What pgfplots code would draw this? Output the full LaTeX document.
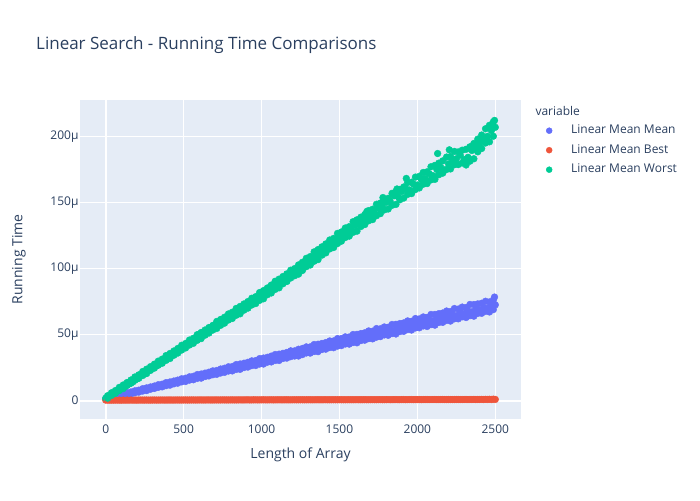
\documentclass[border=0pt]{standalone}
\usepackage{pgfplots}
\usepackage{pgfplotstable}
\pgfplotsset{compat=1.18}
\usepackage{fontspec}
\setmainfont{Open Sans}

\definecolor{plotbg}{HTML}{E5ECF6}
\definecolor{txt}{HTML}{2A3F5F}
\definecolor{cmean}{HTML}{636EFA}
\definecolor{cbest}{HTML}{EF553B}
\definecolor{cworst}{HTML}{00CC96}

% x, mean, best, worst (running time in microseconds)
\pgfplotstableread{
x mean best worst
0 1.2 0.35 1.8
25 1.6 0.31 2.6
50 2.5 0.33 4.5
75 3.1 0.36 6.3
100 4.0 0.32 8.4
125 4.4 0.34 10.3
150 5.6 0.37 12.6
175 6.0 0.35 14.2
200 7.1 0.33 16.4
225 7.5 0.38 18.9
250 8.6 0.36 20.3
275 9.0 0.34 22.8
300 10.1 0.39 24.6
325 10.4 0.37 26.4
350 11.6 0.40 29.1
375 12.0 0.38 30.5
400 13.0 0.41 32.9
425 13.2 0.39 35.2
450 14.5 0.42 36.6
475 14.8 0.40 39.4
500 15.8 0.43 40.8
525 16.1 0.41 43.1
550 17.3 0.44 44.6
575 17.6 0.42 47.5
600 18.9 0.45 48.9
625 19.0 0.43 51.8
650 20.4 0.46 52.7
675 20.6 0.44 55.6
700 21.9 0.47 57.1
725 22.3 0.45 58.5
750 23.2 0.48 61.4
775 23.9 0.46 62.6
800 24.6 0.49 65.3
825 25.5 0.47 66.1
850 26.0 0.50 69.2
875 27.1 0.48 70.4
900 27.4 0.51 72.1
925 28.6 0.49 74.6
950 28.9 0.52 75.3
975 30.2 0.50 78.2
1000 30.4 0.53 79.1
1025 31.6 0.51 81.8
1050 31.8 0.54 83.2
1075 33.1 0.52 85.9
1100 33.3 0.55 86.8
1125 34.5 0.53 90.1
1150 34.6 0.56 91.4
1175 35.9 0.54 93.2
1200 36.1 0.57 96.5
1225 37.4 0.55 97.8
1250 37.6 0.58 100.6
1275 38.9 0.56 102.3
1300 38.8 0.59 104.9
1325 40.5 0.57 108.2
1350 40.1 0.60 109.1
1375 41.6 0.58 111.5
1400 41.4 0.61 114.8
1425 42.8 0.59 116.0
1450 42.6 0.62 119.3
1475 44.1 0.60 121.0
1500 43.9 0.63 124.2
1525 45.2 0.61 125.1
1550 45.0 0.64 128.6
1575 46.5 0.62 129.4
1600 46.7 0.65 132.8
1625 47.9 0.63 134.1
1650 47.6 0.66 136.9
1675 49.3 0.64 138.2
1700 49.1 0.67 141.5
1725 50.6 0.65 142.3
1750 50.5 0.68 146.1
1775 52.0 0.66 147.0
1800 51.8 0.69 150.4
1825 53.4 0.67 151.2
1850 53.1 0.70 155.3
1875 54.9 0.68 154.8
1900 54.5 0.71 158.6
1925 56.3 0.69 160.9
1950 55.8 0.72 159.7
1975 57.7 0.70 164.2
2000 57.9 0.73 163.5
2025 59.6 0.71 167.8
2050 59.0 0.74 168.4
2075 60.9 0.72 172.1
2100 60.4 0.75 170.6
2125 62.5 0.73 175.3
2150 61.8 0.76 176.8
2175 63.9 0.74 174.9
2200 63.2 0.77 179.5
2225 65.1 0.75 182.6
2250 64.4 0.78 183.4
2275 66.8 0.76 186.2
2300 65.9 0.79 182.8
2325 68.0 0.77 184.5
2350 67.3 0.80 189.7
2375 69.2 0.78 192.3
2400 68.7 0.82 195.1
2425 70.4 0.80 197.6
2450 70.1 0.84 200.4
2475 71.8 0.82 204.8
2500 72.6 0.86 207.3
}\timings

% more runs between the sizes above: low and high ends of the spread
\pgfplotstableread{
x mlo mhi best wlo whi
12.5 1.0 2.0 0.34 1.8 3.7
37.5 1.8 2.9 0.32 3.9 5.9
62.5 2.3 3.5 0.35 5.5 7.6
87.5 3.1 4.5 0.33 7.6 10.0
112.5 3.6 5.1 0.36 9.1 11.8
137.5 4.5 5.8 0.34 11.5 13.7
162.5 5.1 6.5 0.37 13.2 15.6
187.5 5.9 7.4 0.35 15.4 17.9
212.5 6.4 7.9 0.38 16.9 19.5
237.5 7.2 9.0 0.36 19.0 22.0
262.5 7.6 9.6 0.39 20.5 23.8
287.5 8.6 10.3 0.37 22.9 25.7
312.5 9.2 11.0 0.40 24.6 27.6
337.5 10.0 12.0 0.38 26.8 29.9
362.5 10.4 12.4 0.41 28.3 31.4
387.5 11.3 13.6 0.39 30.5 34.1
412.5 11.7 14.1 0.42 31.9 35.7
437.5 12.7 14.8 0.40 34.4 37.6
462.5 13.2 15.5 0.43 36.0 39.5
487.5 14.2 16.5 0.41 38.3 41.9
512.5 14.5 16.9 0.44 39.9 43.3
537.5 15.5 18.0 0.42 42.1 45.9
562.5 15.8 18.4 0.45 43.4 47.2
587.5 16.8 19.7 0.43 45.7 50.0
612.5 17.0 20.1 0.46 47.0 51.6
637.5 18.2 20.8 0.44 49.6 53.5
662.5 18.7 21.5 0.47 51.2 55.4
687.5 19.6 22.5 0.45 53.5 57.0
712.5 19.9 22.8 0.48 54.7 60.0
737.5 20.9 23.9 0.46 57.1 61.5
762.5 21.4 24.5 0.49 58.7 63.2
787.5 22.4 25.6 0.47 61.1 65.7
812.5 22.5 25.8 0.50 62.3 67.0
837.5 23.6 27.3 0.48 64.7 69.9
862.5 23.7 27.7 0.51 65.8 71.4
887.5 25.0 28.3 0.49 68.6 73.3
912.5 25.4 29.0 0.52 70.1 75.1
937.5 26.5 30.1 0.50 72.5 77.6
962.5 26.6 30.3 0.53 73.6 78.8
987.5 27.7 31.8 0.51 76.0 81.9
1012.5 27.7 32.2 0.54 77.2 83.4
1037.5 29.1 32.8 0.52 80.3 85.4
1062.5 29.3 33.7 0.55 81.6 87.6
1087.5 30.4 34.9 0.53 84.3 90.5
1112.5 30.4 35.2 0.56 85.5 92.1
1137.5 31.9 35.8 0.54 88.6 94.1
1162.5 32.2 36.5 0.57 90.3 96.1
1187.5 33.3 37.7 0.55 93.0 98.9
1212.5 33.8 37.7 0.58 94.7 100.1
1237.5 33.8 38.9 0.56 95.9 102.9
1262.5 34.9 39.5 0.59 98.7 104.9
1287.5 36.1 40.7 0.57 101.6 107.9
1312.5 36.0 40.7 0.60 102.8 109.2
1337.5 37.2 42.5 0.58 105.7 112.8
1362.5 37.1 42.7 0.61 106.9 114.5
1387.5 38.7 43.3 0.59 110.3 116.6
1412.5 39.0 44.0 0.62 112.0 118.8
1437.5 40.2 45.2 0.60 115.0 121.8
1462.5 40.1 45.2 0.63 116.1 123.0
1487.5 41.3 47.0 0.61 119.1 126.8
1512.5 41.7 47.0 0.64 120.9 127.9
1537.5 42.9 48.3 0.62 123.7 130.9
1562.5 42.8 48.2 0.65 124.7 131.9
1587.5 44.0 50.1 0.63 127.6 135.7
1612.5 43.8 50.2 0.66 128.5 137.1
1637.5 45.5 50.8 0.64 132.0 139.1
1662.5 45.8 51.4 0.67 133.5 141.1
1687.5 47.0 52.8 0.65 136.4 144.1
1712.5 46.8 52.6 0.68 137.3 145.1
1737.5 48.1 54.6 0.66 140.2 148.9
1762.5 48.5 54.4 0.69 141.8 149.8
1787.5 49.8 55.8 0.67 144.6 152.6
1812.5 49.5 55.6 0.70 145.3 153.4
1837.5 50.8 57.7 0.68 148.1 157.2
1862.5 50.5 57.8 0.71 148.8 158.4
1887.5 52.3 58.4 0.69 152.3 160.2
1912.5 52.5 58.9 0.72 153.6 162.0
1937.5 53.9 60.4 0.70 156.4 165.4
1962.5 53.5 60.1 0.73 157.0 165.6
1987.5 55.1 62.2 0.71 160.1 169.5
2012.5 55.2 61.9 0.74 161.3 170.1
2037.5 56.6 63.4 0.72 164.1 173.0
2062.5 56.2 63.1 0.75 164.6 173.5
2087.5 57.6 65.3 0.73 167.4 177.4
2112.5 57.2 65.3 0.76 167.8 178.4
2137.5 59.2 65.9 0.74 171.3 180.1
2162.5 59.3 66.4 0.77 172.5 181.8
2187.5 60.8 67.9 0.75 175.3 184.7
2212.5 60.3 67.5 0.78 175.7 185.1
2237.5 62.0 69.8 0.76 178.9 189.0
2262.5 62.0 69.4 0.80 179.0 188.6
2287.5 63.5 70.9 0.78 180.2 189.9
2312.5 63.0 70.5 0.82 178.7 190.6
2337.5 64.4 72.9 0.80 181.6 192.5
2362.5 64.0 72.8 0.85 183.4 195.0
2387.5 66.1 73.3 0.82 188.7 198.3
2412.5 66.2 73.8 0.88 191.2 201.4
2437.5 67.7 75.3 0.90 195.4 206.2
2462.5 67.2 74.8 0.95 196.3 208.8
2487.5 69.0 76.3 1.05 200.5 211.4
}\spread

% single slow runs standing out of the bands
\pgfplotstableread{
x mean
2495 78.5
}\meanout
\pgfplotstableread{
x worst
1676 143.5
1779 154.0
1869 160.5
1929 168.5
2130 187.4
2205 190.2
2495 212.5
}\worstout

\begin{document}
\begin{tikzpicture}
\path[use as bounding box] (-80pt,-81pt) rectangle (620pt,419pt);
\begin{axis}[
  scale only axis,
  width=441pt, height=319pt,
  at={(0pt,0pt)}, anchor=south west,
  xmin=-165, xmax=2665,
  ymin=-14, ymax=228,
  axis background/.style={fill=plotbg},
  axis line style={draw=none},
  major tick length=0pt,
  xtick={0,500,1000,1500,2000,2500},
  xticklabels={0,500,1000,1500,2000,2500},
  ytick={0,50,100,150,200},
  yticklabels={0,50µ,100µ,150µ,200µ},
  extra x ticks={0}, extra x tick labels={},
  extra y ticks={0}, extra y tick labels={},
  extra tick style={grid style={white, line width=2pt}},
  grid=major,
  grid style={white, line width=1pt},
  /pgf/number format/assume math mode=true,
  ticklabel style={font=\fontsize{12}{14}\selectfont, text=txt},
  xticklabel style={yshift=-2pt},
  yticklabel style={xshift=2pt},
  xlabel={Length of Array},
  ylabel={Running Time},
  label style={font=\fontsize{14}{17}\selectfont, text=txt},
  xlabel style={at={(axis description cs:0.5,-0.1129)}, anchor=center},
  ylabel style={at={(axis description cs:-0.1383,0.5)}, anchor=center},
  clip=false,
  legend style={draw=none, fill=none, inner sep=0pt,
    at={(axis description cs:1,1)}, anchor=north west,
    xshift=20pt, yshift=-24.5pt, row sep=7.5pt,
    font=\fontsize{12}{14}\selectfont, text=txt,
    nodes={inner sep=0pt, text height=9pt, text depth=3pt}},
  legend cell align=left,
  legend image code/.code={\path[draw=none, fill=none] (0pt,-3pt) rectangle (30pt,3pt);
    \draw[#1, mark size=3pt] plot coordinates {(8pt,0pt)};},
  every axis plot/.append style={only marks, mark=*, mark size=3.4pt,
    mark options={draw=none}},
]
\addplot[cmean, mark options={fill=cmean}] table[x=x, y=mean] {\timings};
\addlegendentry{Linear Mean Mean}
\addplot[cbest, mark options={fill=cbest}] table[x=x, y=best] {\timings};
\addlegendentry{Linear Mean Best}
\addplot[cworst, mark options={fill=cworst}] table[x=x, y=worst] {\timings};
\addlegendentry{Linear Mean Worst}
\addplot[cmean, mark options={fill=cmean}, forget plot] table[x=x, y=mlo] {\spread};
\addplot[cmean, mark options={fill=cmean}, forget plot] table[x=x, y=mhi] {\spread};
\addplot[cmean, mark options={fill=cmean}, forget plot] table[x=x, y=mean] {\meanout};
\addplot[cbest, mark options={fill=cbest}, forget plot] table[x=x, y=best] {\spread};
\addplot[cworst, mark options={fill=cworst}, forget plot] table[x=x, y=wlo] {\spread};
\addplot[cworst, mark options={fill=cworst}, forget plot] table[x=x, y=whi] {\spread};
\addplot[cworst, mark options={fill=cworst}, forget plot] table[x=x, y=worst] {\worstout};
\node[anchor=west, font=\fontsize{12}{14}\selectfont, text=txt]
  at (axis description cs:1,1) [xshift=11pt, yshift=-11pt] {variable};
\node[anchor=west, font=\fontsize{17}{20}\selectfont, text=txt, inner sep=0pt]
  at (axis description cs:0,1) [xshift=-44pt, yshift=55pt] {Linear Search - Running Time Comparisons};
\end{axis}
\end{tikzpicture}
\end{document}
